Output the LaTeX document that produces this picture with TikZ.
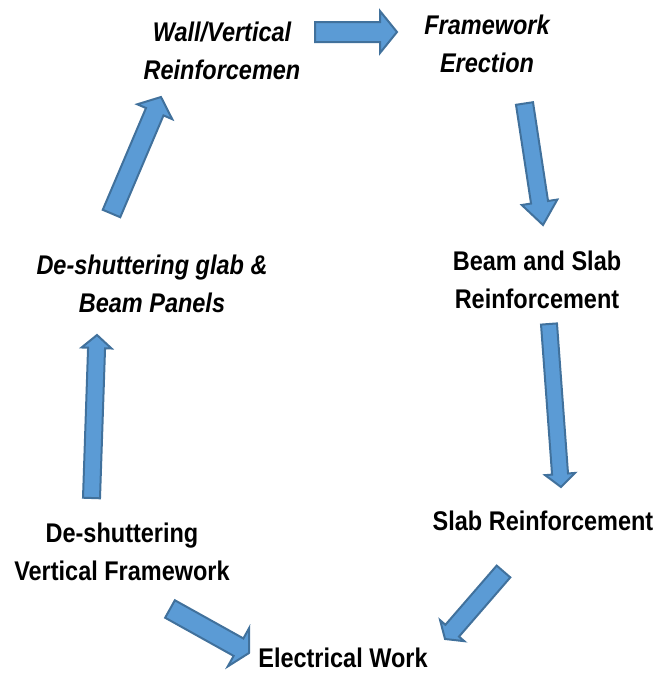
\documentclass[tikz,border=0pt]{standalone}
\usepackage{fontspec}
\setmainfont{Liberation Sans}[FakeStretch=0.87]
\usetikzlibrary{calc}
\definecolor{arrfill}{HTML}{5B9BD5}
\definecolor{arrdraw}{HTML}{41719C}
\tikzset{
  blockarr/.style={fill=arrfill, draw=arrdraw, line width=2pt, line join=miter},
  lbl/.style={align=center, inner sep=0pt, font=\fontsize{27}{38}\selectfont\bfseries},
  lbli/.style={lbl, font=\fontsize{27}{38}\selectfont\bfseries\itshape}
}
% tail, tip, shaft half width, head half width, head length, name
\newcommand\blockarrow[6]{%
  \coordinate (#6h) at ($(#2)!#5!(#1)$);
  \draw[blockarr] ($(#1)!#3!90:(#2)$) -- ($(#6h)!#3!90:(#2)$) -- ($(#6h)!#4!90:(#2)$)
    -- (#2) -- ($(#6h)!#4!-90:(#2)$) -- ($(#6h)!#3!-90:(#2)$) -- ($(#1)!#3!-90:(#2)$) -- cycle;
}
\begin{document}
\begin{tikzpicture}[x=1pt,y=-1pt]
\useasboundingbox (0,0) rectangle (660,673);
% labels
\node[lbli] (wall) at (222,51) {Wall/Vertical\\Reinforcemen};
\node[lbli] (frame) at (487,44) {Framework\\Erection};
\node[lbl] (beam) at (537,280) {Beam and Slab\\Reinforcement};
\node[lbl] (slab) at (543,521) {Slab Reinforcement};
\node[lbl] (elec) at (343,658) {Electrical Work};
\node[lbl] (devert) at (122,552) {De-shuttering\\Vertical Framework};
\node[lbli] (deglab) at (152,284) {De-shuttering glab \&\\Beam Panels};
% arrow ends
\coordinate (a1s) at (315,32);   \coordinate (a1e) at (397,32);
\coordinate (a2s) at (524.5,103.5); \coordinate (a2e) at (543,225);
\coordinate (a3s) at (549,324);  \coordinate (a3e) at (561,487);
\coordinate (a4s) at (503.5,571.5); \coordinate (a4e) at (445,639);
\coordinate (a5s) at (170,609);  \coordinate (a5e) at (249,653);
\coordinate (a6s) at (91.5,498); \coordinate (a6e) at (97,335);
\coordinate (a7s) at (111.5,213.5); \coordinate (a7e) at (161,97);
% arrows
\blockarrow{a1s}{a1e}{10pt}{21pt}{17pt}{a1}
\blockarrow{a2s}{a2e}{8.6pt}{18pt}{23pt}{a2}
\blockarrow{a3s}{a3e}{8pt}{15pt}{13pt}{a3}
\blockarrow{a4s}{a4e}{9pt}{16pt}{11pt}{a4}
\blockarrow{a5s}{a5e}{10pt}{22pt}{12pt}{a5}
\blockarrow{a6s}{a6e}{8.5pt}{15pt}{13pt}{a6}
\blockarrow{a7s}{a7e}{9.5pt}{19pt}{16pt}{a7}
\end{tikzpicture}
\end{document}
